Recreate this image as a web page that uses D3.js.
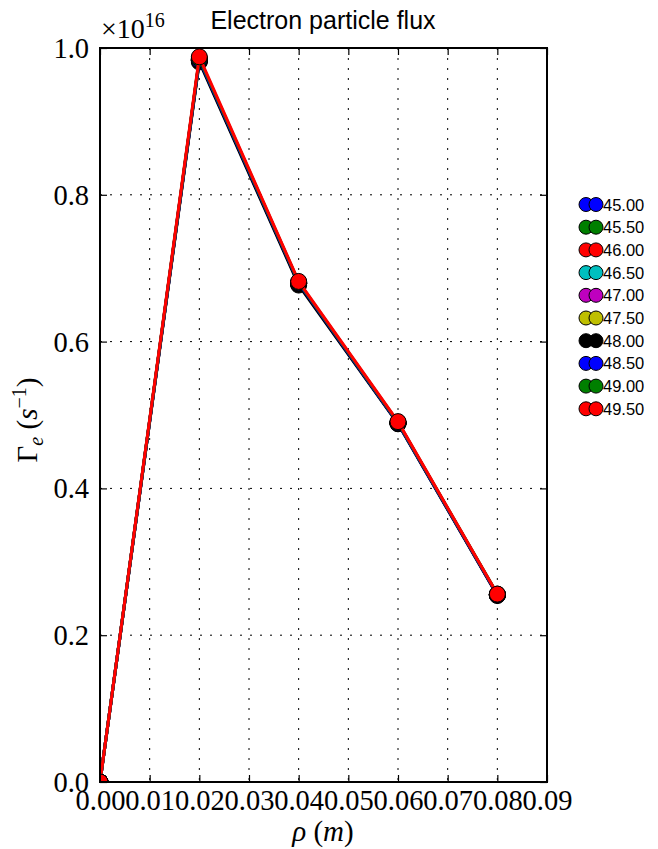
<!DOCTYPE html>
<html><head><meta charset="utf-8">
<script src="https://cdn.jsdelivr.net/npm/d3@7"></script>
<style>
html,body{margin:0;padding:0;background:#fff;}
svg{display:block;}
</style></head>
<body>
<svg id="c" width="658" height="849"></svg>
<script>
const rho = [0.00, 0.02, 0.04, 0.06, 0.08];
const seriesLabels = ["45.00","45.50","46.00","46.50","47.00","47.50","48.00","48.50","49.00","49.50"];
const seriesColors = ["#0000ff","#007f00","#ff0000","#00bfbf","#bf00bf","#bfbf00","#000000","#0000ff","#007f00","#ff0000"];
// flux values in units of 1e16 s^-1
const flux45_00 = [0, 0.983, 0.679, 0.489, 0.255];
const flux45_50 = [0, 0.984, 0.680, 0.489, 0.255];
const flux46_00 = [0, 0.985, 0.680, 0.490, 0.255];
const flux46_50 = [0, 0.984, 0.679, 0.489, 0.255];
const flux47_00 = [0, 0.983, 0.679, 0.489, 0.255];
const flux47_50 = [0, 0.983, 0.679, 0.489, 0.255];
const flux48_00 = [0, 0.981, 0.677, 0.488, 0.254];
const flux48_50 = [0, 0.984, 0.680, 0.489, 0.255];
const flux49_00 = [0, 0.986, 0.681, 0.490, 0.256];
const flux49_50 = [0, 0.988, 0.682, 0.491, 0.256];
const fluxSeries = [flux45_00,flux45_50,flux46_00,flux46_50,flux47_00,flux47_50,flux48_00,flux48_50,flux49_00,flux49_50];
const xTicks = [0,0.01,0.02,0.03,0.04,0.05,0.06,0.07,0.08,0.09];
const yTicks = [0,0.2,0.4,0.6,0.8,1.0];

const svg = d3.select("#c");
const L=100, R=547, T=48, B=782;
const x = d3.scaleLinear().domain([0,0.09]).range([L,R]);
const y = d3.scaleLinear().domain([0,1.0]).range([B,T]);
const serif = "'Liberation Serif','DejaVu Serif',serif";
const sans = "'Liberation Sans',Arial,sans-serif";

svg.append("defs").append("clipPath").attr("id","clip")
  .append("rect").attr("x",L).attr("y",T).attr("width",R-L).attr("height",B-T);

// grid
const grid = svg.append("g").attr("stroke","#000").attr("stroke-width",1).attr("stroke-dasharray","2,8");
xTicks.slice(1,-1).forEach(t=>grid.append("line").attr("x1",x(t)).attr("x2",x(t)).attr("y1",T).attr("y2",B));
yTicks.slice(1,-1).forEach(t=>grid.append("line").attr("y1",y(t)).attr("y2",y(t)).attr("x1",L).attr("x2",R));

// axes with inward ticks
const fmtX = d3.format(".2f"), fmtY = d3.format(".1f");
const axB = svg.append("g").attr("transform",`translate(0,${B})`)
  .call(d3.axisBottom(x).tickValues(xTicks).tickFormat(fmtX).tickSizeInner(-7).tickSizeOuter(0).tickPadding(12));
const axT = svg.append("g").attr("transform",`translate(0,${T})`)
  .call(d3.axisTop(x).tickValues(xTicks).tickFormat("").tickSizeInner(-7).tickSizeOuter(0));
const axL = svg.append("g").attr("transform",`translate(${L},0)`)
  .call(d3.axisLeft(y).tickValues(yTicks).tickFormat(fmtY).tickSizeInner(-7).tickSizeOuter(0).tickPadding(11));
const axR = svg.append("g").attr("transform",`translate(${R},0)`)
  .call(d3.axisRight(y).tickValues(yTicks).tickFormat("").tickSizeInner(-7).tickSizeOuter(0));
[axB,axT,axL,axR].forEach(a=>{
  a.select(".domain").remove();
  a.selectAll(".tick line").attr("stroke","#000").attr("stroke-width",1.2);
  a.selectAll("text").attr("font-family",serif).attr("font-size",28.5).attr("fill","#000");
});
axB.selectAll("text").attr("dy","0.56em");
axL.selectAll("text").attr("dy","0.33em");

// series
const line = d3.line().x((d,i)=>x(rho[i])).y(d=>y(d));
const plot = svg.append("g").attr("clip-path","url(#clip)");
fluxSeries.forEach((s,k)=>{
  plot.append("path").datum(s).attr("d",line).attr("fill","none")
    .attr("stroke",seriesColors[k]).attr("stroke-width",3).attr("stroke-linejoin","round");
  plot.selectAll(null).data(s).enter().append("circle")
    .attr("cx",(d,i)=>x(rho[i])).attr("cy",d=>y(d)).attr("r",8)
    .attr("fill",seriesColors[k]).attr("stroke","#000").attr("stroke-width",1);
});

// frame
svg.append("rect").attr("x",L).attr("y",T).attr("width",R-L).attr("height",B-T)
  .attr("fill","none").attr("stroke","#000").attr("stroke-width",2);

// offset text
const off = svg.append("text").attr("x",101).attr("y",38).attr("font-family",serif).attr("font-size",28);
off.append("tspan").text("×10");
off.append("tspan").attr("font-size",20).attr("dy",-11).text("16");

// title
svg.append("text").attr("x",323).attr("y",29).attr("text-anchor","middle")
  .attr("font-family",sans).attr("font-size",25).text("Electron particle flux");

// x label
const xl = svg.append("text").attr("x",323).attr("y",841).attr("text-anchor","middle")
  .attr("font-family",serif).attr("font-size",29);
xl.append("tspan").attr("font-style","italic").text("ρ");
xl.append("tspan").text(" (");
xl.append("tspan").attr("font-style","italic").text("m");
xl.append("tspan").text(")");

// y label
const yl = svg.append("text").attr("transform","translate(37,420) rotate(-90)").attr("text-anchor","middle")
  .attr("font-family",serif).attr("font-size",29);
yl.append("tspan").text("Γ");
yl.append("tspan").attr("font-style","italic").attr("font-size",20).attr("dy",6).text("e");
yl.append("tspan").attr("dy",-6).text(" (");
yl.append("tspan").attr("font-style","italic").text("s");
yl.append("tspan").attr("font-size",20).attr("dy",-11).text("−1");
yl.append("tspan").attr("dy",11).text(")");

// legend
const lg = svg.append("g");
seriesLabels.forEach((lab,k)=>{
  const cy = 204.5 + k*22.7;
  [586,596].forEach(cx=>lg.append("circle").attr("cx",cx).attr("cy",cy).attr("r",7)
    .attr("fill",seriesColors[k]).attr("stroke","#000").attr("stroke-width",1));
  lg.append("text").attr("x",603).attr("y",cy+6).attr("font-family",sans).attr("font-size",16.5)
    .attr("letter-spacing","0").text(lab);
});
</script>
</body></html>
